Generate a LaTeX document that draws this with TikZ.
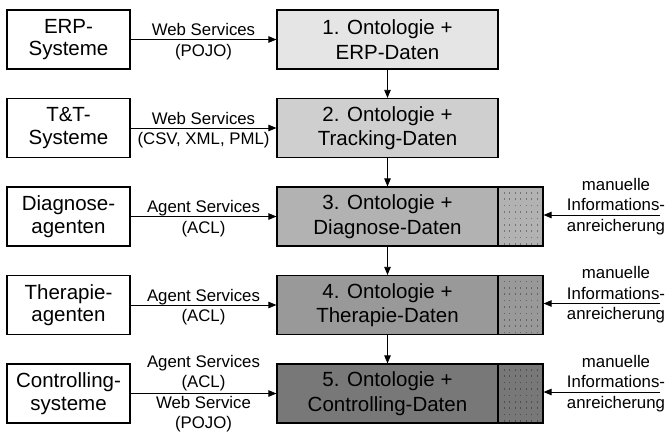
\documentclass[tikz,border=0pt]{standalone}
\usepackage{fontspec}
\setmainfont{Liberation Sans}
\usetikzlibrary{arrows.meta}

% shades of the ontology stages
\definecolor{ontoA}{gray}{0.90}
\definecolor{ontoB}{gray}{0.81}
\definecolor{ontoC}{gray}{0.70}
\definecolor{ontoD}{gray}{0.60}
\definecolor{ontoE}{gray}{0.47}

\begin{document}
\begin{tikzpicture}[x=1pt, y=-1pt,
    sys/.style={draw, line width=1.2pt, minimum width=123pt, minimum height=59pt,
      inner sep=0pt, align=center, font=\fontsize{20.5}{22.5}\selectfont},
    onto/.style={draw, line width=1.2pt, minimum width=221pt, minimum height=59pt,
      inner sep=0pt, align=center, font=\fontsize{20.5}{24.5}\selectfont},
    extra/.style={draw, line width=1.2pt, minimum width=45pt, minimum height=59pt, inner sep=0pt},
    lbl/.style={inner sep=0pt, align=center, font=\fontsize{16.8}{20.5}\selectfont},
    flow/.style={-{Triangle[length=8pt,width=6.5pt]}, line width=.8pt}]
    \useasboundingbox (0,0) rectangle (668,434);

    % source systems
    \node[sys] (erp)  at (68.5,39.5)  {ERP-\\Systeme};
    \node[sys] (tt)   at (68.5,128)   {T\&T-\\Systeme};
    \node[sys] (diag) at (68.5,216.5) {Diagnose-\\agenten};
    \node[sys] (ther) at (68.5,305)   {Therapie-\\agenten};
    \node[sys] (ctrl) at (68.5,393.5) {Controlling-\\systeme};

    % ontology stages
    \node[onto, fill=ontoA] (o1) at (387.5,39.5)  {1. Ontologie +\\ERP-Daten};
    \node[onto, fill=ontoB] (o2) at (387.5,128)   {2. Ontologie +\\Tracking-Daten};
    \node[onto, fill=ontoC] (o3) at (387.5,216.5) {3. Ontologie +\\Diagnose-Daten};
    \node[onto, fill=ontoD] (o4) at (387.5,305)   {4. Ontologie +\\Therapie-Daten};
    \node[onto, fill=ontoE] (o5) at (387.5,393.5) {5. Ontologie +\\Controlling-Daten};

    % manual enrichment parts
    \node[extra, fill=ontoC] (x3) at (520.5,216.5) {};
    \node[extra, fill=ontoD] (x4) at (520.5,305)   {};
    \node[extra, fill=ontoE] (x5) at (520.5,393.5) {};
    \foreach \y in {216.5,305,393.5}
      \foreach \i in {0,...,6}
        \foreach \j in {0,...,8}
          \fill[black, opacity=.35] (503.5+5.5*\i, \y-24.5+6.4*\j) rectangle ++(1,1.6);

    \draw[flow] (erp)  -- (o1) node[lbl, pos=.5, yshift=-2pt] {Web Services\\(POJO)};
    \draw[flow] (tt)   -- (o2) node[lbl, pos=.5, yshift=-2pt] {Web Services\\(CSV, XML, PML)};
    \draw[flow] (diag) -- (o3) node[lbl, pos=.5, yshift=-2pt] {Agent Services\\(ACL)};
    \draw[flow] (ther) -- (o4) node[lbl, pos=.5, yshift=-2pt] {Agent Services\\(ACL)};
    \draw[flow] (ctrl) -- (o5) node[lbl, pos=.5] {Agent Services\\(ACL)\\Web Service\\(POJO)};

    \draw[flow] (o1) -- (o2);
    \draw[flow] (o2) -- (o3);
    \draw[flow] (o3) -- (o4);
    \draw[flow] (o4) -- (o5);

    % manual input
    \foreach \n/\y in {3/216.5, 4/305, 5/393.5} {
      \node[lbl] (note\n) at (616,\y-10) {manuelle\\Informations-\\anreicherung};
      \coordinate (m\n) at (660,\y-1.5);
      \draw[flow] (m\n) -- (m\n -| x\n.east);
    }
  \end{tikzpicture}
\end{document}
